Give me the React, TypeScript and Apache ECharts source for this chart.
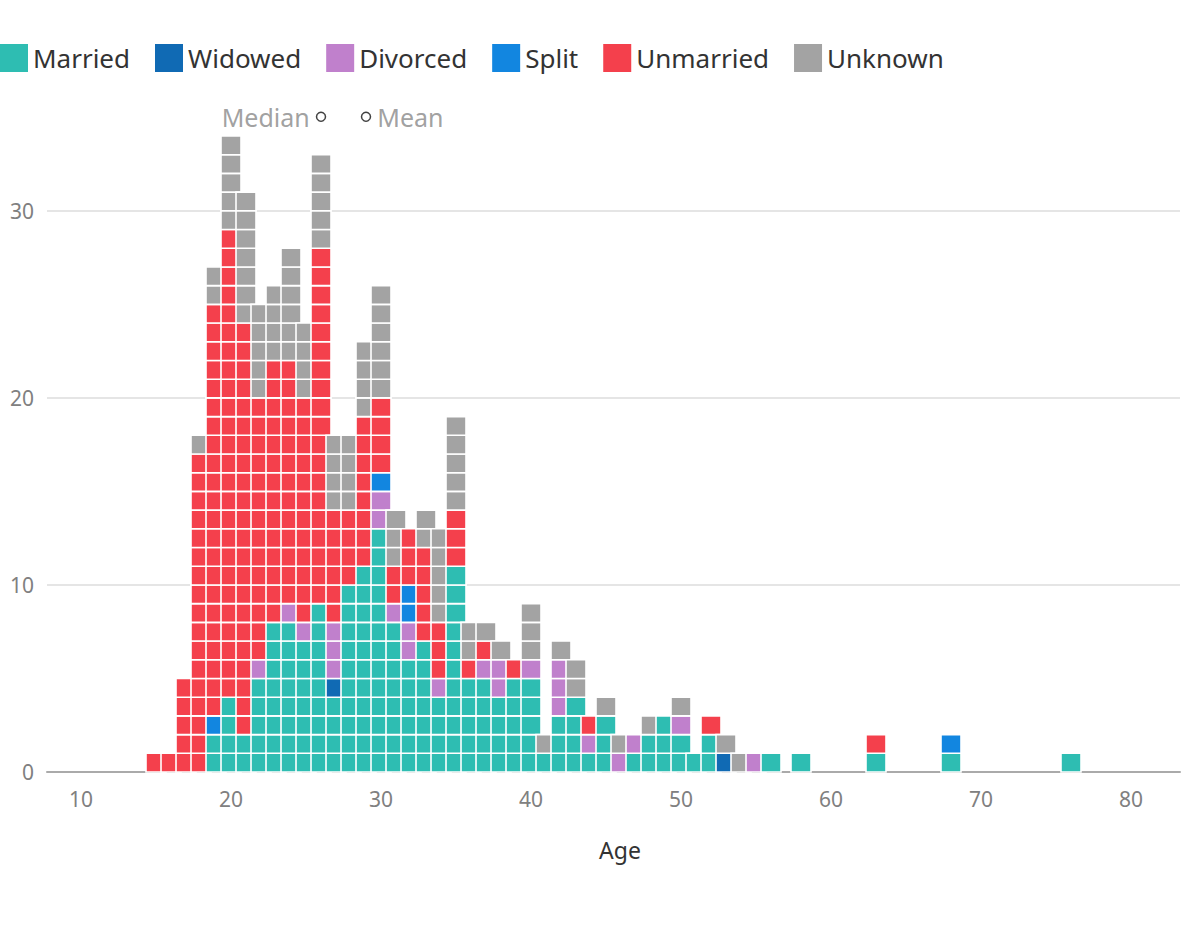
import React, { useEffect, useRef } from "react";
import * as echarts from "echarts";

// ---------- data ----------
const statuses = ["Married", "Widowed", "Divorced", "Split", "Unmarried", "Unknown"];
const statusColors = ["#2EBDB2", "#106AB4", "#C080CC", "#1286E0", "#F4404C", "#A3A3A3"];

const ages = [15, 16, 17, 18, 19, 20, 21, 22, 23, 24, 25, 26, 27, 28, 29, 30, 31, 32, 33, 34, 35, 36, 37, 38, 39, 40, 41, 42, 43, 44, 45, 46, 47, 48, 49, 50, 51, 52, 53, 54, 55, 56, 58, 63, 68, 76];
const married   = [0, 0, 0, 0, 2, 4, 2, 5, 8, 8, 7, 9, 4, 10, 11, 13, 8, 6, 7, 4, 11, 5, 5, 4, 5, 5, 1, 3, 4, 1, 3, 0, 1, 2, 3, 2, 1, 2, 0, 0, 0, 1, 1, 1, 1, 1];
const widowed   = [0, 0, 0, 0, 0, 0, 0, 0, 0, 0, 0, 0, 1, 0, 0, 0, 0, 0, 0, 0, 0, 0, 0, 0, 0, 0, 0, 0, 0, 0, 0, 0, 0, 0, 0, 0, 0, 0, 1, 0, 0, 0, 0, 0, 0, 0];
const divorced  = [0, 0, 0, 0, 0, 0, 0, 1, 0, 1, 1, 0, 3, 0, 0, 2, 1, 2, 0, 1, 0, 0, 1, 2, 0, 1, 0, 3, 0, 1, 0, 1, 1, 0, 0, 1, 0, 0, 0, 0, 1, 0, 0, 0, 0, 0];
const split     = [0, 0, 0, 0, 1, 0, 0, 0, 0, 0, 0, 0, 0, 0, 0, 1, 0, 2, 0, 0, 0, 0, 0, 0, 0, 0, 0, 0, 0, 0, 0, 0, 0, 0, 0, 0, 0, 0, 0, 0, 0, 0, 0, 0, 1, 0];
const unmarried = [1, 1, 5, 17, 22, 25, 22, 14, 14, 13, 12, 19, 6, 4, 8, 4, 2, 3, 5, 3, 3, 1, 1, 0, 1, 0, 0, 0, 0, 1, 0, 0, 0, 0, 0, 0, 0, 1, 0, 0, 0, 0, 0, 1, 0, 0];
const unknown   = [0, 0, 0, 1, 2, 5, 7, 5, 4, 6, 4, 5, 4, 4, 4, 6, 3, 0, 2, 5, 5, 2, 1, 1, 0, 3, 1, 1, 2, 0, 1, 1, 0, 1, 0, 1, 0, 0, 1, 1, 0, 0, 0, 0, 0, 0];
const countsByStatus = [married, widowed, divorced, split, unmarried, unknown];

const summaryStats = [
  { name: "Median", age: 26 },
  { name: "Mean", age: 29 },
];
const xTickValues = [10, 20, 30, 40, 50, 60, 70, 80];

// ---------- layout constants ----------
const X_MIN = 7.733;
const X_MAX = 83.267;
const Y_MAX = 34;
const CELL_W = 1.3333; // in years
const STAT_Y = 35.03;
const FONT = "'Noto Sans', Lato, sans-serif";

function buildCells(si: number): number[][] {
  const out: number[][] = [];
  ages.forEach((age, i) => {
    let start = 0;
    for (let k = 0; k < si; k++) start += countsByStatus[k][i];
    for (let j = 0; j < countsByStatus[si][i]; j++) out.push([age, start + j]);
  });
  return out;
}

export default function App() {
  const ref = useRef<HTMLDivElement>(null);
  useEffect(() => {
    document.body.style.margin = "0";
    const chart = echarts.init(ref.current!, null, { renderer: "svg" });
    const cellSeries = statuses.map((name, si) => ({
      type: "custom",
      name,
      itemStyle: { color: statusColors[si] },
      data: buildCells(si),
      renderItem: (params: any, api: any) => {
        const age = api.value(0);
        const lvl = api.value(1);
        const b = api.coord([age, lvl]);
        const t = api.coord([age, lvl + 1]);
        const w = api.size([CELL_W, 0])[0];
        return {
          type: "rect",
          z2: age * 10 + si,
          shape: { x: b[0] - w / 2, y: t[1], width: w, height: b[1] - t[1] },
          style: { fill: statusColors[si], stroke: "#fff", lineWidth: 1.6 },
        };
      },
    }));
    chart.setOption({
      animation: false,
      textStyle: { fontFamily: FONT },
      grid: { left: 47, right: 20, top: 136, bottom: 174 },
      legend: {
        data: statuses,
        left: 0,
        top: 44,
        padding: 0,
        icon: "rect",
        itemWidth: 28,
        itemHeight: 28,
        itemGap: 25,
        selectedMode: false,
        textStyle: { fontSize: 26, color: "#333", fontFamily: FONT },
      },
      xAxis: {
        type: "value",
        min: X_MIN,
        max: X_MAX,
        axisLine: { show: true, lineStyle: { color: "#aaa", width: 2 } },
        axisTick: { show: false },
        splitLine: { show: false },
        axisLabel: { customValues: xTickValues, fontSize: 21, color: "#808080", margin: 16, fontFamily: FONT },
      },
      yAxis: {
        type: "value",
        min: 0,
        max: Y_MAX,
        interval: 10,
        axisLine: { show: false },
        axisTick: { show: false },
        axisLabel: { fontSize: 21, color: "#808080", margin: 13, showMaxLabel: false, fontFamily: FONT },
        splitLine: { show: true, showMaxLine: false, showMinLine: false, lineStyle: { color: "#dcdcdc", width: 1.5 } },
      },
      graphic: [
        {
          type: "text",
          x: 620,
          y: 850,
          style: { text: "Age", fontSize: 23, fill: "#333", textAlign: "center", textVerticalAlign: "middle", fontFamily: FONT },
        },
      ],
      series: [
        ...cellSeries,
        {
          type: "scatter",
          name: "stats",
          clip: false,
          symbol: "circle",
          symbolSize: 9,
          itemStyle: { color: "#fff", borderColor: "#111", borderWidth: 1.5 },
          data: summaryStats.map((s, i) => ({
            name: s.name,
            value: [s.age, STAT_Y],
            label: {
              show: true,
              position: i === 0 ? "left" : "right",
              formatter: s.name,
              distance: 6,
              color: "#888",
              fontSize: 25,
              fontFamily: FONT,
            },
          })),
        },
      ],
    });
    return () => chart.dispose();
  }, []);
  return <div ref={ref} style={{ width: 1200, height: 946 }} />;
}
